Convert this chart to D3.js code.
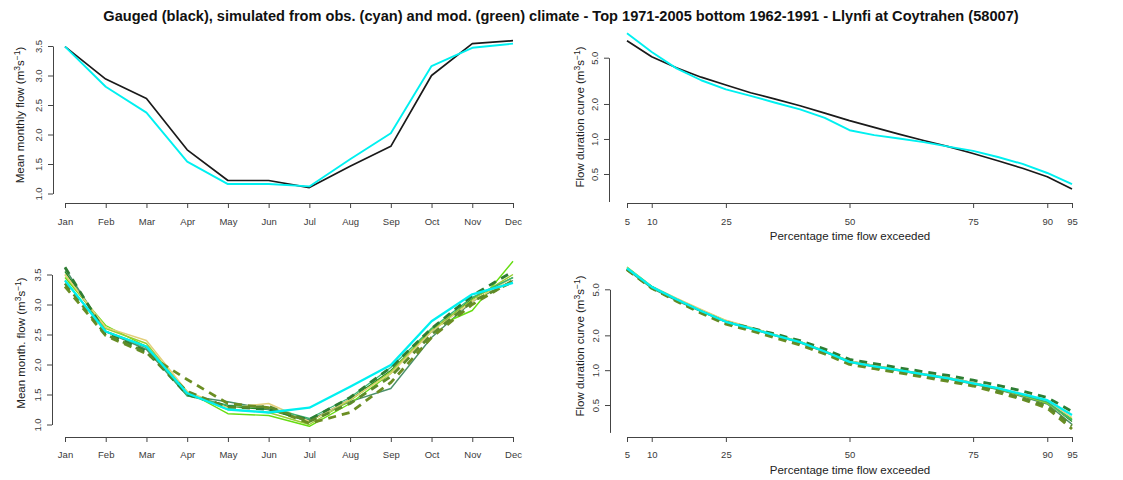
<!DOCTYPE html>
<html>
<head>
<meta charset="utf-8">
<script src="https://cdn.jsdelivr.net/npm/d3@7"></script>
<style>
  body { margin: 0; background: #fff; }
  svg { font-family: "Liberation Sans", Arial, sans-serif; }
  .tick text { fill: #3a3a3a; font-size: 9.5px; }
  .domain, .tick line { stroke: #444; }
</style>
</head>
<body>
<svg width="1123" height="480"></svg>
<script>
/* global d3 */

const months = ["Jan", "Feb", "Mar", "Apr", "May", "Jun", "Jul", "Aug", "Sep", "Oct", "Nov", "Dec"];
const pctExceeded = [5, 10, 15, 20, 25, 30, 35, 40, 45, 50, 55, 60, 65, 70, 75, 80, 85, 90, 95];
const pctTicks = [5, 10, 25, 50, 75, 90, 95];
const monthlyTicks = [1.0, 1.5, 2.0, 2.5, 3.0, 3.5];
const fdcTicks = [0.5, 1.0, 2.0, 5.0];

// top: 1971-2005
const gaugedMonthly = [3.49, 2.94, 2.61, 1.74, 1.22, 1.22, 1.10, 1.46, 1.80, 3.00, 3.54, 3.59];
const obsSimMonthly = [3.49, 2.81, 2.37, 1.54, 1.16, 1.16, 1.12, 1.58, 2.02, 3.16, 3.47, 3.54];
const gaugedFdc = [7.0, 5.1, 4.1, 3.4, 2.91, 2.5, 2.2, 1.93, 1.67, 1.44, 1.26, 1.10, 0.97, 0.86, 0.75, 0.65, 0.56, 0.474, 0.371];
const obsSimFdc = [8.1, 5.6, 4.05, 3.2, 2.67, 2.35, 2.05, 1.8, 1.52, 1.19, 1.08, 1.01, 0.94, 0.86, 0.79, 0.70, 0.61, 0.51, 0.41];

// bottom: 1962-1991
const obsSimMonthlyB = [3.40, 2.55, 2.30, 1.52, 1.25, 1.20, 1.28, 1.63, 1.99, 2.72, 3.17, 3.36];
const obsSimFdcB = [7.6, 5.25, 4.1, 3.25, 2.62, 2.3, 2.0, 1.75, 1.45, 1.18, 1.08, 1.0, 0.92, 0.85, 0.77, 0.70, 0.62, 0.55, 0.41];

const modelColours = ["#228B22", "#4a8f6a", "#66dd11", "#9ACD32", "#e3cf7a", "#3CB371", "#6B8E23", "#2E7D32", "#5d8a2a"];
const modelDashed = [false, false, false, false, false, false, true, true, true];
const modelMonthly = [
  [3.55, 2.55, 2.30, 1.50, 1.30, 1.25, 1.05, 1.42, 1.90, 2.55, 3.10, 3.45],
  [3.60, 2.55, 2.25, 1.48, 1.38, 1.25, 1.08, 1.38, 1.60, 2.45, 3.05, 3.40],
  [3.45, 2.65, 2.30, 1.55, 1.18, 1.15, 0.97, 1.35, 1.85, 2.60, 2.90, 3.72],
  [3.50, 2.60, 2.35, 1.52, 1.25, 1.20, 1.00, 1.40, 1.88, 2.58, 3.08, 3.50],
  [3.50, 2.62, 2.40, 1.55, 1.28, 1.35, 1.05, 1.42, 1.85, 2.55, 3.05, 3.45],
  [3.40, 2.55, 2.28, 1.48, 1.32, 1.28, 1.10, 1.45, 1.95, 2.60, 3.12, 3.45],
  [3.30, 2.48, 2.18, 1.75, 1.35, 1.28, 1.02, 1.20, 1.70, 2.45, 3.00, 3.40],
  [3.62, 2.52, 2.22, 1.50, 1.30, 1.25, 1.08, 1.45, 1.95, 2.60, 3.15, 3.55],
  [3.35, 2.50, 2.20, 1.55, 1.28, 1.30, 1.05, 1.35, 1.80, 2.50, 3.05, 3.38]
];
const modelFdc = [
  [7.5, 5.2, 4.05, 3.25, 2.65, 2.32, 2.02, 1.76, 1.46, 1.2, 1.1, 1.01, 0.93, 0.86, 0.78, 0.70, 0.61, 0.53, 0.36],
  [7.4, 5.1, 4.0, 3.2, 2.6, 2.28, 1.98, 1.72, 1.43, 1.17, 1.07, 0.99, 0.91, 0.84, 0.76, 0.68, 0.59, 0.51, 0.34],
  [7.8, 5.3, 4.15, 3.3, 2.68, 2.33, 2.02, 1.76, 1.46, 1.19, 1.09, 1.0, 0.92, 0.85, 0.77, 0.69, 0.61, 0.52, 0.38],
  [7.6, 5.2, 4.1, 3.3, 2.66, 2.31, 2.01, 1.75, 1.45, 1.19, 1.08, 1.0, 0.92, 0.85, 0.77, 0.69, 0.6, 0.52, 0.37],
  [7.7, 5.3, 4.2, 3.35, 2.7, 2.35, 2.03, 1.77, 1.47, 1.2, 1.1, 1.01, 0.93, 0.86, 0.78, 0.70, 0.62, 0.54, 0.39],
  [7.5, 5.2, 4.05, 3.22, 2.62, 2.29, 1.99, 1.74, 1.45, 1.18, 1.08, 1.0, 0.92, 0.85, 0.77, 0.69, 0.61, 0.53, 0.37],
  [7.4, 5.1, 3.95, 3.1, 2.5, 2.2, 1.9, 1.65, 1.38, 1.12, 1.03, 0.95, 0.87, 0.8, 0.73, 0.64, 0.56, 0.47, 0.31],
  [7.5, 5.2, 4.05, 3.2, 2.6, 2.32, 2.05, 1.8, 1.52, 1.24, 1.14, 1.05, 0.97, 0.9, 0.82, 0.74, 0.66, 0.58, 0.44],
  [7.4, 5.15, 4.0, 3.15, 2.55, 2.25, 1.95, 1.7, 1.42, 1.15, 1.06, 0.97, 0.89, 0.82, 0.75, 0.66, 0.57, 0.49, 0.33]
];

const svg = d3.select("svg");

svg.append("text")
  .attr("x", 561)
  .attr("y", 21)
  .attr("text-anchor", "middle")
  .style("font-weight", "bold")
  .style("font-size", "14.6px")
  .style("fill", "#111")
  .text("Gauged (black), simulated from obs. (cyan) and mod. (green) climate - Top 1971-2005 bottom 1962-1991 - Llynfi at Coytrahen (58007)");

// one panel: x scale, y scale, axis positions, y title
function panel(opt) {
  const g = svg.append("g");

  const xAxis = d3.axisBottom(opt.x).tickValues(opt.xTicks).tickFormat(opt.xFormat);
  g.append("g")
    .attr("transform", "translate(0," + opt.axisY + ")")
    .call(xAxis.tickSize(5).tickSizeOuter(0).tickPadding(opt.pad));

  const ya = g.append("g")
    .attr("transform", "translate(" + opt.axisX + ",0)")
    .call(d3.axisLeft(opt.y).tickValues(opt.yTicks).tickFormat(d3.format(".1f")).tickSize(5).tickSizeOuter(0));
  ya.selectAll(".tick text")
    .attr("transform", "rotate(-90)")
    .attr("x", 0)
    .attr("y", -11)
    .attr("dy", 0)
    .style("text-anchor", "middle");

  const t = g.append("text")
    .attr("transform", "translate(" + opt.titleX + "," + opt.titleY + ") rotate(-90)")
    .attr("text-anchor", "middle")
    .style("font-size", "11.5px")
    .style("fill", "#222");
  t.append("tspan").text(opt.title + " (m");
  t.append("tspan").attr("dy", -4).style("font-size", "8.5px").text("3");
  t.append("tspan").attr("dy", 4).text("s");
  t.append("tspan").attr("dy", -4).style("font-size", "8.5px").text("\u22121");
  t.append("tspan").attr("dy", 4).text(")");

  if (opt.xTitle) {
    g.append("text")
      .attr("x", 850)
      .attr("y", opt.axisY + 37)
      .attr("text-anchor", "middle")
      .style("font-size", "11.5px")
      .style("fill", "#222")
      .text(opt.xTitle);
  }
  return g;
}

function drawLine(g, xs, x, y, values, colour, width, dashed) {
  const line = d3.line()
    .x(function(d, i) { return x(xs[i]); })
    .y(function(d) { return y(d); });
  g.append("path")
    .datum(values)
    .attr("d", line)
    .attr("fill", "none")
    .attr("stroke", colour)
    .attr("stroke-width", width)
    .attr("stroke-linejoin", "round")
    .attr("stroke-dasharray", dashed ? "8,6" : null);
}

const monthIdx = d3.range(1, 13);
const xMonth = d3.scaleLinear().domain([1, 12]).range([65, 513]);
const xPct = d3.scaleLinear().domain([5, 95]).range([627, 1072]);

// top left
const yMonTop = d3.scaleLinear().domain([1, 3.5]).range([193.5, 46]);
const p1 = panel({
  x: xMonth, y: yMonTop, axisY: 203, axisX: 53, pad: 10,
  xTicks: monthIdx, xFormat: function(d) { return months[d - 1]; },
  yTicks: monthlyTicks, title: "Mean monthly flow", titleX: 24, titleY: 115
});
drawLine(p1, monthIdx, xMonth, yMonTop, gaugedMonthly, "#1a1a1a", 1.7, false);
drawLine(p1, monthIdx, xMonth, yMonTop, obsSimMonthly, "#00f0f0", 1.9, false);

// top right
const yFdcTop = d3.scaleLog().domain([0.29, 5]).range([201.5, 57.7]);
const p2 = panel({
  x: xPct, y: yFdcTop, axisY: 203, axisX: 609, pad: 10,
  xTicks: pctTicks, xFormat: d3.format("d"),
  yTicks: fdcTicks, title: "Flow duration curve", titleX: 584, titleY: 117,
  xTitle: "Percentage time flow exceeded"
});
drawLine(p2, pctExceeded, xPct, yFdcTop, gaugedFdc, "#1a1a1a", 1.7, false);
drawLine(p2, pctExceeded, xPct, yFdcTop, obsSimFdc, "#00f0f0", 1.9, false);

// bottom left
const yMonBot = d3.scaleLinear().domain([1, 3.5]).range([424.5, 274.5]);
const p3 = panel({
  x: xMonth, y: yMonBot, axisY: 437, axisX: 52, pad: 9,
  xTicks: monthIdx, xFormat: function(d) { return months[d - 1]; },
  yTicks: monthlyTicks, title: "Mean month. flow", titleX: 25, titleY: 343
});
modelMonthly.forEach(function(v, i) {
  drawLine(p3, monthIdx, xMonth, yMonBot, v, modelColours[i], modelDashed[i] ? 2.8 : 1.4, modelDashed[i]);
});
drawLine(p3, monthIdx, xMonth, yMonBot, obsSimMonthlyB, "#00f0f0", 2.3, false);

// bottom right
const yFdcBot = d3.scaleLog().domain([0.29, 5]).range([432.4, 289.3]);
const p4 = panel({
  x: xPct, y: yFdcBot, axisY: 437, axisX: 610, pad: 9,
  xTicks: pctTicks, xFormat: d3.format("d"),
  yTicks: fdcTicks, title: "Flow duration curve", titleX: 584, titleY: 346,
  xTitle: "Percentage time flow exceeded"
});
modelFdc.forEach(function(v, i) {
  drawLine(p4, pctExceeded, xPct, yFdcBot, v, modelColours[i], modelDashed[i] ? 2.8 : 1.4, modelDashed[i]);
});
drawLine(p4, pctExceeded, xPct, yFdcBot, obsSimFdcB, "#00f0f0", 2.3, false);
</script>
</body>
</html>
